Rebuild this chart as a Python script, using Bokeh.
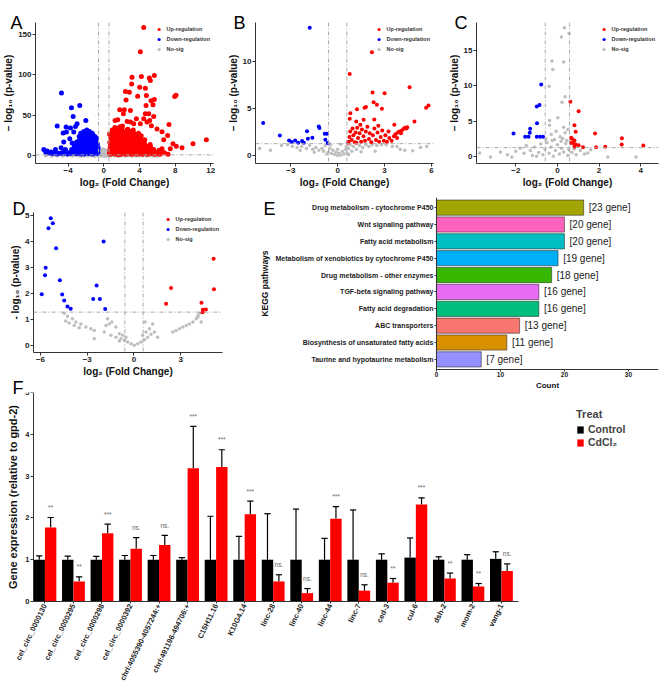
from bokeh.plotting import figure
from bokeh.layouts import row, column
from bokeh.models import Range1d, FixedTicker, Span, Legend, LegendItem, GridBox
from bokeh.embed import file_html
from bokeh.resources import INLINE
from bokeh.core.properties import value

FONT = "Liberation Sans"
AX = "#333333"
RED = "#FF0000"
BLUE = "#0000FF"
GREY = "#BEBEBE"

# ---------------- Volcano data (log2 FC, -log10 p) ----------------
A_up = [(4.48, 158.2), (4.1, 128.3), (3.17, 96.9), (4.22, 97.7), (5.11, 96), (5.67, 98.9), (5.22, 92.8),
        (3.13, 88.7), (4.03, 84.6), (4.66, 83.4), (2.43, 79.3), (2.87, 78.5), (3.8, 73.6), (4.78, 74.4),
        (8.1, 74.8), (7.95, 73.2), (2.5, 69), (4.74, 62.1), (5.67, 69.5), (5.52, 63), (5.3, 68),
        (1.79, 56.8), (2.31, 56.8), (2.2, 51.9), (2.99, 56), (4.66, 51.9), (5.04, 51.9), (3.66, 45.8),
        (4.48, 45.8), (5.15, 43.7), (5.6, 48.6), (1.27, 43.7), (1.57, 44.5), (2.61, 42.5), (2.99, 41.7),
        (3.36, 39.6), (4.1, 39.6), (4.85, 41.7), (5.34, 37.2), (7.31, 38.8), (5.97, 33.1), (6.53, 29.8),
        (6.72, 20), (7.16, 25.3), (7.76, 15.1), (10.0, 15.1), (11.5, 20), (8.13, 11.9), (8.77, 10.2),
        (7.46, 9), (6.53, 9), (5.6, 7.8),
        (0.7, 2), (0.8, 5), (0.9, 9), (0.75, 14), (0.85, 20), (1.0, 3), (1.1, 7), (1.0, 12), (1.2, 17),
        (1.05, 24), (1.15, 30), (1.3, 2.5), (1.35, 6), (1.4, 11), (1.3, 15), (1.45, 21), (1.4, 27),
        (1.5, 33), (1.6, 4), (1.65, 9), (1.7, 13), (1.6, 18), (1.75, 24), (1.7, 29), (1.9, 2), (1.85, 6),
        (1.95, 11), (2.0, 16), (1.9, 20), (2.05, 26), (2.0, 34), (2.2, 3), (2.25, 8), (2.15, 13),
        (2.3, 18), (2.2, 23), (2.35, 29), (2.5, 2), (2.45, 5), (2.55, 10), (2.6, 15), (2.5, 21),
        (2.65, 27), (2.8, 3), (2.85, 7), (2.75, 12), (2.9, 17), (2.8, 23), (2.95, 30), (3.1, 2),
        (3.05, 6), (3.15, 10), (3.2, 15), (3.1, 20), (3.25, 26), (3.4, 3), (3.45, 8), (3.35, 13),
        (3.5, 18), (3.45, 24), (3.7, 2), (3.65, 6), (3.75, 11), (3.8, 16), (3.7, 21), (4.0, 3),
        (4.05, 7), (3.95, 12), (4.1, 18), (4.3, 2), (4.35, 5), (4.25, 10), (4.4, 14), (4.6, 3),
        (4.65, 7), (4.55, 11), (4.9, 2), (4.95, 5), (5.0, 9), (5.3, 3), (5.4, 6), (5.7, 2), (6.0, 3),
        (6.3, 2), (6.8, 4), (7.2, 2), (0.65, 27), (1.25, 35), (2.1, 37), (2.7, 33), (3.3, 32),
        (4.2, 25), (4.6, 20), (5.2, 14), (3.9, 28), (0.95, 32), (1.8, 36),
        (0.65, 4), (0.7, 8), (0.72, 11), (0.68, 17), (0.78, 23), (0.9, 6), (0.92, 15), (0.95, 27),
        (1.08, 10), (1.12, 20), (1.2, 4), (1.22, 13), (1.28, 25), (1.33, 31), (1.38, 8), (1.48, 16),
        (1.52, 5), (1.55, 24), (1.62, 1.5), (1.68, 20), (1.78, 11), (1.82, 31), (1.88, 15), (1.98, 8),
        (2.02, 21), (2.08, 30), (2.12, 4), (2.18, 17), (2.28, 11), (2.32, 26), (2.38, 6), (2.42, 20),
        (2.52, 13), (2.58, 32), (2.62, 8), (2.68, 24), (2.72, 17), (2.78, 5), (2.88, 20), (2.92, 11),
        (2.98, 26), (3.02, 14), (3.08, 4), (3.18, 23), (3.22, 8), (3.28, 18), (3.32, 12), (3.38, 28),
        (3.42, 5), (3.52, 21), (3.58, 10), (3.62, 15), (3.68, 26), (3.78, 4), (3.82, 19), (3.88, 8),
        (3.92, 14), (4.02, 22), (4.08, 10), (4.12, 5), (4.18, 15), (4.22, 20), (4.28, 7), (4.38, 11),
        (4.42, 17), (4.48, 3), (4.52, 9), (4.58, 15), (4.68, 5), (4.72, 12), (4.78, 8), (4.82, 3),
        (4.88, 11), (5.02, 6), (5.12, 4), (5.18, 8), (5.25, 11), (5.35, 4.5), (5.5, 7), (5.55, 3),
        (5.8, 4.5), (6.1, 5), (6.5, 3), (6.2, 7)]
A_down = [(-4.74, 77.6), (-3.62, 59.3), (-2.69, 62.1), (-3.43, 48.6), (-2.01, 43.7), (-5.22, 36.8),
          (-4.22, 35.6), (-3.73, 34.3), (-3.17, 36.4), (-2.99, 39.6), (-4.55, 28.2), (-4.18, 29.4),
          (-3.36, 29.4), (-2.24, 30.2), (-4.48, 17.2), (-3.81, 21.3), (-3.54, 15.9), (-4.78, 10.2),
          (-5.41, 7.8), (-6.72, 7.8), (-6.34, 6.1), (-5.9, 4.9), (-6.16, 3.7), (-5.15, 3.7), (-4.29, 7.8),
          (-5.6, 4), (-4.9, 3), (-4.5, 5), (-3.9, 4), (-3.6, 8), (-3.3, 12), (-3.1, 5),
          (-2.9, 3), (-2.8, 8), (-2.7, 14), (-2.6, 19), (-2.5, 4), (-2.45, 10), (-2.4, 16), (-2.35, 22),
          (-2.2, 2.5), (-2.15, 7), (-2.1, 12), (-2.05, 18), (-2.0, 24), (-1.95, 29), (-1.85, 4),
          (-1.8, 9), (-1.75, 15), (-1.7, 21), (-1.65, 27), (-1.55, 3), (-1.5, 7), (-1.45, 12),
          (-1.4, 18), (-1.35, 24), (-1.25, 2.5), (-1.2, 6), (-1.15, 11), (-1.1, 16), (-1.05, 21),
          (-0.95, 4), (-0.9, 9), (-0.85, 14), (-0.8, 19), (-0.7, 3), (-0.68, 7), (-0.65, 11),
          (-2.3, 27), (-1.6, 30), (-1.0, 24), (-3.0, 10), (-2.75, 24), (-1.3, 28),
          (-2.95, 6), (-2.92, 14), (-2.85, 18), (-2.78, 5), (-2.72, 11), (-2.65, 22), (-2.62, 8),
          (-2.55, 13), (-2.52, 25), (-2.48, 2.5), (-2.42, 7), (-2.38, 19), (-2.32, 12), (-2.28, 4),
          (-2.25, 24), (-2.18, 15), (-2.12, 9), (-2.08, 27), (-2.02, 5), (-1.98, 14), (-1.92, 20),
          (-1.88, 11), (-1.82, 25), (-1.78, 6), (-1.72, 17), (-1.68, 3), (-1.62, 12), (-1.58, 23),
          (-1.52, 9), (-1.48, 19), (-1.42, 5), (-1.38, 15), (-1.32, 21), (-1.28, 10), (-1.22, 26),
          (-1.18, 3), (-1.12, 14), (-1.08, 19), (-1.02, 8), (-0.98, 12), (-0.92, 17), (-0.88, 5),
          (-0.82, 22), (-0.78, 11), (-0.75, 7), (-0.72, 15), (-0.66, 4), (-0.64, 9), (-3.2, 3),
          (-3.4, 6), (-3.7, 3), (-4.1, 2.5), (-4.4, 3), (-4.7, 4), (-5.3, 2.5), (-5.8, 3), (-6.5, 4.5),
          (-3.05, 17), (-2.58, 28), (-1.9, 32)]
A_ns = [(-6.5, 0.8), (-5.8, 0.5), (-5.2, 1.0), (-4.6, 0.6), (-4.0, 1.1), (-3.5, 0.4), (-3.0, 0.9),
        (-2.6, 0.3), (-2.2, 1.0), (-1.8, 0.5), (-1.4, 0.9), (-1.0, 0.3), (-0.6, 0.7), (-0.4, 2),
        (-0.3, 4), (-0.2, 6), (-0.1, 8), (0, 3), (0.1, 7), (0.2, 5), (0.3, 2.5), (0.4, 6), (0.5, 1),
        (-0.5, 1.2), (0.8, 0.5), (1.2, 1.0), (1.6, 0.4), (2.0, 0.9), (2.4, 0.6), (2.8, 1.1), (3.2, 0.3),
        (3.6, 0.8), (4.0, 0.5), (4.4, 1.0), (4.8, 0.4), (5.2, 0.9), (5.6, 0.6), (6.0, 0.3),
        (-0.35, 1), (0.35, 0.5), (0.0, 0.2), (-0.15, 2.5), (0.15, 1.5)]

B_up = [(2.19, 10.99), (0.77, 8.70), (4.60, 7.29), (2.23, 6.73), (3.0, 6.65), (2.30, 5.70), (2.51, 5.42),
        (2.83, 5.0), (1.72, 5.11), (1.81, 5.18), (1.23, 4.96), (0.81, 4.54), (0.77, 3.94), (5.66, 5.11),
        (5.81, 5.35), (4.91, 3.66), (3.62, 3.31), (2.34, 3.87), (1.19, 3.66), (1.66, 3.84),
        (0.7, 1.5), (0.75, 2.0), (0.8, 2.6), (0.9, 1.7), (0.95, 2.9), (1.0, 2.2), (1.1, 1.45),
        (1.15, 2.5), (1.25, 3.0), (1.3, 1.9), (1.4, 2.4), (1.5, 1.5), (1.55, 2.8), (1.65, 2.1),
        (1.75, 1.6), (1.8, 2.6), (1.9, 3.1), (2.0, 1.8), (2.05, 2.4), (2.15, 1.45), (2.25, 2.2),
        (2.35, 2.9), (2.45, 1.7), (2.55, 2.5), (2.65, 1.5), (2.75, 2.0), (2.85, 2.7), (2.95, 1.6),
        (3.05, 2.2), (3.15, 1.5), (3.3, 1.9), (3.45, 1.6), (3.6, 2.1), (3.7, 2.3), (3.8, 1.9),
        (3.85, 2.5), (3.95, 2.6), (4.05, 2.4), (4.1, 2.7), (4.2, 2.85), (4.3, 3.0), (4.4, 2.9),
        (4.45, 3.05), (1.2, 1.4), (2.6, 3.2), (0.65, 1.4), (1.45, 3.3), (3.25, 2.6)]
B_down = [(-1.79, 13.6), (-4.77, 3.49), (-3.70, 2.18), (-3.11, 1.65), (-2.94, 1.48), (-2.72, 1.65),
          (-2.53, 1.41), (-2.28, 1.58), (-2.17, 1.41), (-1.96, 2.61), (-1.91, 1.83), (-1.62, 1.94),
          (-1.21, 3.13), (-1.17, 2.96), (-0.83, 2.36), (-0.68, 2.36), (-0.79, 1.73), (-0.64, 1.37)]
B_ns = [(-5.0, 0.8), (-4.3, 0.6), (-3.2, 1.2), (-2.9, 1.0), (-2.6, 0.9), (-2.3, 1.0), (-2.0, 0.8),
        (-1.8, 1.1), (-1.6, 0.7), (-1.4, 0.9), (-1.2, 0.6), (-1.0, 0.8), (-0.9, 0.5), (-0.8, 1.1),
        (-0.6, 0.4), (-0.5, 0.8), (-0.4, 0.25), (-0.3, 0.6), (-0.2, 0.15), (-0.1, 0.4), (0, 0.05),
        (0.1, 0.3), (0.2, 0.1), (0.3, 0.5), (0.4, 0.2), (0.5, 0.7), (0.55, 1.0), (0.6, 0.3), (0.7, 0.8),
        (0.8, 1.2), (0.9, 0.5), (1.0, 1.0), (1.2, 0.7), (1.4, 1.1), (1.6, 0.9), (1.8, 1.2), (2.0, 1.0),
        (2.2, 1.2), (2.5, 1.1), (2.8, 1.2), (3.1, 1.2), (3.5, 1.0), (4.0, 0.7), (4.3, 0.6), (4.8, 0.55),
        (5.3, 0.9), (5.7, 1.0), (-1.5, 0.4), (-0.7, 0.2), (0.7, 0.15), (1.5, 0.45), (-2.4, 0.6),
        (2.4, 0.5), (-0.45, 1.2), (0.2, 1.25), (0.0, 0.7), (-3.6, 1.1), (3.8, 1.0)]

C_up = [(0.62, 7.75), (1.02, 6.43), (0.82, 4.46), (0.88, 3.52), (0.66, 2.68), (0.70, 2.54), (0.82, 2.30),
        (0.77, 1.97), (0.66, 1.97), (0.88, 1.74), (1.02, 1.64), (1.23, 1.36), (0.82, 1.41), (1.81, 3.29),
        (1.86, 1.36), (2.30, 1.41), (3.10, 2.63), (3.09, 1.74), (4.13, 1.60)]
C_down = [(-0.78, 10.19), (-0.86, 7.28), (-0.99, 7.09), (-0.98, 4.74), (-1.31, 3.94), (-1.33, 3.38),
          (-2.11, 3.29), (-1.55, 2.82), (-1.39, 2.82), (-0.99, 2.82), (-0.83, 2.82), (-0.69, 2.82)]
C_ns = [(0.34, 18.17), (0.56, 17.37), (0.19, 16.85), (0.30, 13.33), (-0.26, 13.47), (-0.22, 12.3),
        (-0.40, 9.95), (0.37, 8.45), (0.22, 7.7), (0.02, 5.49), (-0.38, 5.12), (-0.38, 4.46), (0.30, 4.18),
        (0.50, 3.85), (-0.06, 3.62), (-0.30, 3.15), (0.13, 2.82), (0.37, 3.4), (-0.14, 2.44), (0.18, 2.2),
        (-3.74, 0.56), (-3.22, 0), (-2.74, 0.7), (-2.19, 0), (1.46, 0.56), (2.42, 0), (3.78, 0),
        (-1.8, 1.2), (-1.6, 0.5), (-1.5, 1.6), (-1.3, 0.9), (-1.2, 0.2), (-1.1, 1.4), (-0.9, 0.6),
        (-0.8, 1.8), (-0.7, 0.3), (-0.6, 1.1), (-0.5, 2.0), (-0.4, 0.5), (-0.3, 1.4), (-0.2, 0.1),
        (-0.1, 0.9), (0, 1.7), (0.1, 0.4), (0.2, 1.2), (0.3, 0.7), (0.4, 1.9), (0.5, 0.2), (0.55, 1.0),
        (0.7, 0.6), (0.9, 0.3), (1.1, 0.9), (1.3, 0.4), (-2.0, 0.8), (-2.4, 0.3), (-1.0, 0.1),
        (0.8, 1.1), (1.6, 1.0), (-0.25, 2.3), (0.25, 2.6), (-0.55, 2.5), (0.45, 2.3)]

D_up = [(5.11, 3.35), (5.13, 2.18), (2.38, 2.23), (2.06, 1.62), (4.33, 1.66), (4.42, 1.39), (4.40, 1.30),
        (4.61, 1.40)]
D_down = [(-5.34, 4.91), (-5.21, 4.72), (-5.49, 4.52), (-5.0, 3.76), (-5.67, 3.01), (-5.71, 2.72),
          (-4.76, 2.53), (-5.92, 1.99), (-4.61, 1.98), (-4.48, 1.75), (-4.27, 1.52), (-4.06, 1.43),
          (-1.95, 4.02), (-2.40, 2.32), (-2.62, 1.81), (-2.19, 1.81), (-1.85, 1.42)]
D_ns = [(-4.48, 1.26), (-4.27, 1.14), (-3.95, 1.05), (-3.73, 0.92), (-3.41, 0.85), (-3.09, 0.73),
        (-2.77, 0.66), (-2.55, 0.6), (-4.16, 0.88), (-3.84, 0.79), (-3.52, 0.7), (-4.38, 0.96),
        (-2.55, 0.28), (-1.7, 1.05), (-1.59, 0.85), (-1.42, 0.92), (-1.16, 0.73), (-1.91, 0.54),
        (-1.8, 0.79), (-1.48, 0.41), (-1.16, 0.34), (-0.94, 0.47), (-0.84, 0.28), (-0.62, 0.22),
        (-0.41, 0.15), (-0.19, 0.09), (0.02, 0.03), (0.24, 0.09), (0.45, 0.15), (0.67, 0.24),
        (0.88, 0.34), (1.09, 0.45), (1.31, 0.54), (1.52, 0.34), (-0.94, 0.19), (-0.73, 0.41),
        (-0.52, 0.34), (0.56, 0.41), (0.77, 0.54), (0.99, 0.66), (1.2, 0.85), (0.71, 0.92),
        (2.49, 0.54), (2.7, 0.6), (2.92, 0.66), (3.13, 0.73), (3.35, 0.79), (3.56, 0.85), (3.78, 0.92),
        (3.99, 1.05), (4.1, 1.17), (4.21, 1.26), (4.31, 0.92), (4.1, 1.11)]

# ---------------- KEGG data ----------------
kegg_terms = ["Drug metabolism - cytochrome P450", "Wnt signaling pathway", "Fatty acid metabolism",
              "Metabolism of xenobiotics by cytochrome P450", "Drug metabolism - other enzymes",
              "TGF-beta signaling pathway", "Fatty acid degradation", "ABC transporters",
              "Biosynthesis of unsaturated fatty acids", "Taurine and hypotaurine metabolism"]
kegg_counts = [23, 20, 20, 19, 18, 16, 16, 13, 11, 7]
kegg_colors = ["#A3A500", "#FF62BC", "#00BFC4", "#00B0F6", "#39B600", "#E76BF3", "#00BF7D",
               "#F8766D", "#D89000", "#9590FF"]

# ---------------- qPCR data ----------------
genes = ["cel_circ_0000130", "cel_circ_0000295", "cel_circ_0000298", "cel_circ_0000392",
         "chrI:4055390-4057244:+", "chrI:491196-494706:+", "C15H11.16", "K10G4.14", "linc-28",
         "linc-40", "linc-44", "linc-7", "ced-3", "cul-6", "dsh-2", "mom-2", "vang-1"]
ctrl_mean = [1, 1, 1, 1, 1, 1, 1, 1, 1, 1, 1, 1, 1, 1.05, 1, 1, 1.02]
ctrl_top = [1.09, 1.085, 1.08, 1.10, 1.10, 1.05, 2.04, 1.56, 2.10, 2.21, 1.51, 2.19, 1.14, 1.52, 1.07, 1.12, 1.19]
cd_mean = [1.77, 0.48, 1.63, 1.26, 1.35, 3.19, 3.22, 2.09, 0.48, 0.20, 1.98, 0.26, 0.45, 2.32, 0.55, 0.36, 0.73]
cd_top = [2.01, 0.59, 1.85, 1.53, 1.58, 4.19, 3.63, 2.40, 0.64, 0.31, 2.27, 0.40, 0.55, 2.48, 0.68, 0.43, 0.90]
sig = ["**", "**", "***", "ns.", "ns.", "***", "***", "***", "ns.", "ns.", "***", "ns.", "**", "***",
       "**", "**", "ns."]

# panel letters and where they sit on the page
panel_letters = ["A", "B", "C", "D", "E", "F"]
letter_px = [10, 233, 454, 12, 263, 12]
letter_py = [22, 22, 22, 208, 208, 387]


def style_axis(ax, tick_size, title_size, tick_out=3):
    ax.axis_line_color = AX
    ax.axis_line_width = 1
    ax.major_tick_line_color = AX
    ax.major_tick_out = tick_out
    ax.major_tick_in = 0
    ax.minor_tick_line_color = None
    ax.major_label_text_font = FONT
    ax.major_label_text_font_style = "bold"
    ax.major_label_text_font_size = tick_size
    ax.major_label_text_color = "#222222"
    ax.major_label_standoff = 1
    ax.axis_label_text_font = FONT
    ax.axis_label_text_font_style = "bold"
    ax.axis_label_text_font_size = title_size
    ax.axis_label_text_color = "#111111"
    ax.axis_label_standoff = 1


def base_fig(w, h, xr, yr, borders):
    l, r, t, b = borders
    p = figure(width=w, height=h, x_range=Range1d(*xr), y_range=Range1d(*yr),
               output_backend="svg", toolbar_location=None, frame_align=False,
               min_border_left=l, min_border_right=r, min_border_top=t, min_border_bottom=b)
    p.outline_line_color = None
    p.xgrid.visible = False
    p.ygrid.visible = False
    p.border_fill_color = None
    return p


def volcano(w, h, xr, yr, borders, xticks, yticks, up, down, ns, ytitle, sz=4.0):
    p = base_fig(w, h, xr, yr, borders)
    for loc, dim in [(-0.585, "height"), (0.585, "height"), (1.301, "width")]:
        p.add_layout(Span(location=loc, dimension=dim, line_color="#A8A8A8",
                          line_dash="4 2 1 2", line_width=1))
    r_ns = p.scatter([a for a, b in ns], [b for a, b in ns], size=sz - 0.5, fill_color=GREY,
                     line_color=None)
    r_dn = p.scatter([a for a, b in down], [b for a, b in down], size=sz, fill_color=BLUE,
                     line_color=None)
    r_up = p.scatter([a for a, b in up], [b for a, b in up], size=sz, fill_color=RED,
                     line_color=None)
    p.xaxis.ticker = FixedTicker(ticks=xticks)
    p.yaxis.ticker = FixedTicker(ticks=yticks)
    p.xaxis.axis_label = "log₂ (Fold Change)"
    p.yaxis.axis_label = ytitle
    style_axis(p.xaxis[0], "8px", "10px")
    style_axis(p.yaxis[0], "8px", "10px")
    leg = Legend(items=[LegendItem(label="Up-regulation", renderers=[r_up]),
                        LegendItem(label="Down-regulation", renderers=[r_dn]),
                        LegendItem(label="No-sig", renderers=[r_ns])],
                 location="top_right", margin=3, padding=0, spacing=2,
                 glyph_width=8, glyph_height=8, label_height=8, label_standoff=4,
                 label_text_font=FONT, label_text_font_size="5.5px",
                 label_text_font_style="bold", label_text_color="#333333",
                 border_line_alpha=0, background_fill_alpha=0)
    p.add_layout(leg)
    return p


pa = volcano(220, 190, (-7.65, 12.3), (-9.3, 164.3), (35, 7, 22, 27), [-4, 0, 4, 8, 12],
             [0, 50, 100, 150], A_up, A_down, A_ns, "– log₁₀ (p-value)", sz=5.0)
pb = volcano(220, 190, (-5.26, 6.13), (-0.8, 14.15), (35, 7, 22, 27), [-3, 0, 3, 6],
             [0, 5, 10], B_up, B_down, B_ns, "– log₁₀ (p-value)")
pc = volcano(227, 190, (-3.89, 4.86), (-0.93, 18.9), (36, 9, 22, 27), [-2, 0, 2, 4],
             [0, 5, 10, 15], C_up, C_down, C_ns, "– log₁₀ (p-value)")
pd = volcano(223, 198, (-6.45, 5.68), (-0.25, 5.13), (33, 1, 22, 36), [-6, -3, 0, 3],
             [0, 1, 2, 3, 4, 5], D_up, D_down, D_ns, "- log₁₀ (p-value)")

# ---------------- Panel E ----------------
# frame fills the figure; both axes are pinned (count axis under the last bar, pathway axis at 0)
pe = base_fig(444, 198, (-33.28, 34.7), (-0.727, 10.6), (0, 9, 7, 0))
ypos = list(range(len(kegg_terms), 0, -1))
pe.hbar(y=ypos, left=0, right=kegg_counts, height=0.9, fill_color=kegg_colors,
        line_color="#333333", line_width=0.6)
pe.text(x=[c + 0.8 for c in kegg_counts], y=ypos, text=["[%d gene]" % c for c in kegg_counts],
        text_font=value(FONT), text_font_size="10px", text_baseline="middle",
        text_align="left", text_color="#222222")
pe.xaxis.ticker = FixedTicker(ticks=[0, 10, 20, 30])
pe.xaxis.fixed_location = 0.4
pe.xaxis.bounds = (0, 34.7)
pe.yaxis.fixed_location = 0
pe.yaxis.bounds = (0.4, 10.6)
pe.yaxis.ticker = FixedTicker(ticks=ypos)
pe.yaxis.major_label_overrides = {y: t for y, t in zip(ypos, kegg_terms)}
pe.xaxis.axis_label = "Count"
pe.yaxis.axis_label = "KEGG pathways"
style_axis(pe.xaxis[0], "6.5px", "8px", tick_out=2)
style_axis(pe.yaxis[0], "7px", "8.5px", tick_out=2)
pe.xaxis.axis_label_standoff = 0
pe.yaxis.axis_label_standoff = 3

# ---------------- Panel F ----------------
# frame fills the figure; the gene axis is pinned at y = 0, the expression axis at the first group
pf = base_fig(667, 306, (-0.557, 22.75), (-2.225, 5), (0, 2, 4, 0))
xs = list(range(1, len(genes) + 1))
xc = [i - 0.2 for i in xs]
xt = [i + 0.2 for i in xs]
pf.segment(x0=xc, y0=ctrl_mean, x1=xc, y1=ctrl_top, line_color="black", line_width=1.2)
pf.segment(x0=[x - 0.11 for x in xc], y0=ctrl_top, x1=[x + 0.11 for x in xc], y1=ctrl_top,
           line_color="black", line_width=1.2)
pf.segment(x0=xt, y0=cd_mean, x1=xt, y1=cd_top, line_color="black", line_width=1.2)
pf.segment(x0=[x - 0.11 for x in xt], y0=cd_top, x1=[x + 0.11 for x in xt], y1=cd_top,
           line_color="black", line_width=1.2)
r_c = pf.vbar(x=xc, top=ctrl_mean, width=0.4, fill_color="#000000", line_color=None)
r_t = pf.vbar(x=xt, top=cd_mean, width=0.4, fill_color=RED, line_color=None)
pf.text(x=xt, y=[t + 0.24 for t in cd_top], text=sig, text_font=value(FONT),
        text_font_size="6.5px", text_align="center", text_baseline="middle", text_color="#666666")
pf.xaxis.ticker = FixedTicker(ticks=xs)
pf.xaxis.bounds = (0.6, 17.6)
pf.xaxis.fixed_location = 0
pf.xaxis.major_label_overrides = {i: g for i, g in zip(xs, genes)}
pf.xaxis.major_label_orientation = 1.117
pf.yaxis.ticker = FixedTicker(ticks=[0, 1, 2, 3, 4, 5])
pf.yaxis.bounds = (0, 5)
pf.yaxis.fixed_location = 0.6
pf.yaxis.axis_label = "Gene expression (relative to gpd-2)"
style_axis(pf.xaxis[0], "7.5px", "10px", tick_out=2)
style_axis(pf.yaxis[0], "7.5px", "11px", tick_out=3)
pf.yaxis.axis_label_standoff = 3
legF = Legend(items=[LegendItem(label="Control", renderers=[r_c]),
                     LegendItem(label="CdCl₂", renderers=[r_t])],
              location=(576, 246), title="Treat", margin=0, padding=0, spacing=1,
              glyph_width=8, glyph_height=9, label_height=9, label_standoff=4,
              label_text_font=FONT, label_text_font_size="10.5px", label_text_font_style="bold",
              title_text_font=FONT, title_text_font_size="11px", title_text_font_style="bold",
              title_standoff=3, border_line_alpha=0, background_fill_alpha=0)
pf.add_layout(legF)

main = column(row(pa, pb, pc), row(pd, pe), pf)

# transparent overlay carrying the panel letters (page pixel coordinates)
ov = figure(width=667, height=694, x_range=Range1d(0, 667), y_range=Range1d(694, 0),
            output_backend="svg", toolbar_location=None, x_axis_location=None,
            y_axis_location=None, min_border=0, frame_align=False)
ov.grid.visible = False
ov.xgrid.visible = False
ov.ygrid.visible = False
ov.outline_line_color = None
ov.background_fill_color = None
ov.border_fill_color = None
ov.text(x=letter_px, y=letter_py, text=panel_letters, text_font=value(FONT),
        text_font_size="18px", text_baseline="alphabetic", text_align="left", text_color="#000000")

page = GridBox(children=[(main, 0, 0), (ov, 0, 0)])
open("out.html", "w").write(file_html(page, INLINE))
